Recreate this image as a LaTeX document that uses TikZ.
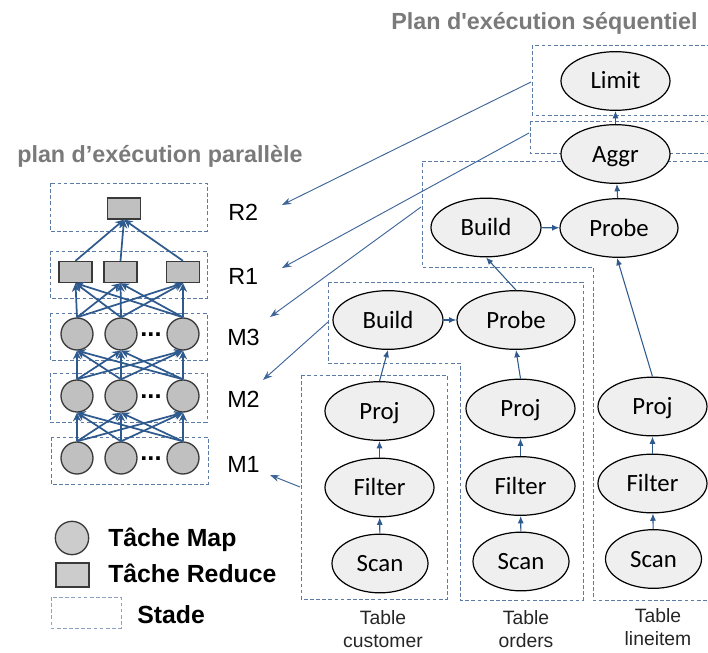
\documentclass[tikz,border=0pt]{standalone}
\usepackage{fontspec}
\setmainfont{Liberation Sans}
\newfontfamily\rawsans{Liberation Sans}[Ligatures=TeXOff]
\newfontfamily\calib{Carlito}
\usetikzlibrary{shapes.geometric,arrows.meta}
\definecolor{arrowblue}{HTML}{2F5A8E}
\definecolor{linkblue}{HTML}{3E659A}
\definecolor{dashblue}{HTML}{5B7BA6}
\definecolor{legdash}{HTML}{8DA2C2}
\definecolor{titlegray}{HTML}{7A7A7A}
\definecolor{taskgray}{HTML}{C0C0C0}
\definecolor{legfill}{HTML}{CCCCCC}
\definecolor{ellfill}{HTML}{EFEFEF}
\definecolor{tasked}{HTML}{3A3A3A}
\begin{document}
\begin{tikzpicture}[x=0.75pt,y=-0.75pt,
  op/.style={ellipse, draw=black, fill=ellfill, line width=0.9pt, inner sep=0pt,
    minimum height=44pt, minimum width=81.75pt,
    font=\calib\fontsize{18.6}{20}\selectfont, text height=14.4pt, text depth=2.4pt},
  buildop/.style={op, minimum width=82.5pt},
  probeop/.style={op, minimum width=88.5pt},
  scanop/.style={op, minimum width=72pt},
  sarrow/.style={-{Latex[length=5.5pt,width=4.5pt]}, draw=arrowblue, line width=0.8pt},
  maptask/.style={circle, draw=tasked, fill=taskgray, line width=1pt, minimum size=24pt, inner sep=0pt},
  redtask/.style={rectangle, draw=tasked, fill=taskgray, line width=1pt, minimum width=24.75pt, minimum height=15.75pt, inner sep=0pt},
  garrow/.style={-{Stealth[length=6.5pt,width=6pt]}, draw=arrowblue, line width=1.3pt},
  stage/.style={draw=dashblue, dash pattern=on 2.8pt off 1.8pt, line width=0.75pt},
  link/.style={-{Stealth[length=7pt,width=5pt]}, draw=linkblue, line width=0.7pt},
  title/.style={font=\rawsans\bfseries\fontsize{17.5}{20}\selectfont, text=titlegray, inner sep=0pt, anchor=base west},
  stagelbl/.style={font=\fontsize{17.5}{20}\selectfont, inner sep=0pt, anchor=base west},
  leglbl/.style={font=\bfseries\fontsize{18.6}{22}\selectfont, inner sep=0pt, anchor=base west},
  tbl/.style={font=\fontsize{14.5}{17.3}\selectfont, text=black!85, inner sep=0pt, anchor=north, align=center}
]
\useasboundingbox (0,0) rectangle (708,653);

% ---------- titles ----------
\node[title] (tseq) at (391,30) {Plan d'exécution séquentiel};
\node[title] (tpar) at (17,162) {plan d’exécution parallèle};

% ---------- parallel plan: stages ----------
\draw[stage] (50,183) rectangle (207,231);
\draw[stage] (50,251) rectangle (207,298);
\draw[stage] (50,313) rectangle (207,360);
\draw[stage] (50,373) rectangle (207,422);
\draw[stage] (51,437) rectangle (208,484);

% tasks
\node[redtask] (r2) at (124,208.5) {};
\node[redtask] (r1a) at (75.5,272) {};
\node[redtask] (r1b) at (120.5,272) {};
\node[redtask] (r1c) at (183,272) {};
\foreach \n/\y in {m3/334,m2/396,m1/458}{
  \node[maptask] (\n a) at (77,\y) {};
  \node[maptask] (\n b) at (121,\y) {};
  \node[maptask] (\n c) at (183,\y) {};
  \node[font=\bfseries\fontsize{19}{20}\selectfont, inner sep=0pt] (\n dots) at (151,\y+1) {...};
}
\foreach \a in {a,b,c}{
  \foreach \b in {a,b,c}{
    \draw[garrow] (m1\a.north) -- (m2\b.south);
    \draw[garrow] (m2\a.north) -- (m3\b.south);
    \draw[garrow] (m3\a.north) -- (r1\b.south);
  }
  \draw[garrow] (r1\a.north) -- (r2.south);
}

% stage labels
\node[stagelbl] (lR2) at (228,220.5) {R2};
\node[stagelbl] (lR1) at (228,284.5) {R1};
\node[stagelbl] (lM3) at (227,345.5) {M3};
\node[stagelbl] (lM2) at (227,407.5) {M2};
\node[stagelbl] (lM1) at (227,472.5) {M1};

% ---------- sequential plan: stage outlines ----------
\draw[stage] (532,45) rectangle (714,115);
\draw[stage] (530,121) rectangle (714,153);
\draw[stage] (714,161) -- (422,161) -- (422,267) -- (593,267) -- (593,600) -- (714,600);
\draw[stage] (328,282) -- (583,282) -- (583,600) -- (460,600) -- (460,363) -- (328,363) -- cycle;
\draw[stage] (301,375) rectangle (447,599);

% operators
\node[op] (limit) at (615.5,81) {Limit};
\node[op] (aggr) at (615.5,154) {Aggr};
\node[probeop] (probeT) at (619,228) {Probe};
\node[buildop] (buildT) at (486,227.5) {Build};
\node[buildop] (buildL) at (388,320) {Build};
\node[probeop] (probeL) at (516,320) {Probe};
\node[op] (cproj) at (379.5,411) {Proj};
\node[op] (cfilt) at (379.5,487.5) {Filter};
\node[scanop] (cscan) at (380,563.5) {Scan};
\node[op] (oproj) at (520.5,408.5) {Proj};
\node[op] (ofilt) at (520.5,486) {Filter};
\node[scanop] (oscan) at (521,561.5) {Scan};
\node[op] (lproj) at (652.5,406.5) {Proj};
\node[op] (lfilt) at (652.5,483.5) {Filter};
\node[scanop] (lscan) at (653.5,559) {Scan};

% operator arrows
\draw[sarrow] (cscan) -- (cfilt);
\draw[sarrow] (cfilt) -- (cproj);
\draw[sarrow] (cproj.north) -- (buildL.south);
\draw[sarrow] (oscan) -- (ofilt);
\draw[sarrow] (ofilt) -- (oproj);
\draw[sarrow] (oproj.north) -- (probeL.south);
\draw[sarrow] (lscan) -- (lfilt);
\draw[sarrow] (lfilt) -- (lproj);
\draw[sarrow] (buildL) -- (probeL);
\draw[sarrow] (probeL.north) -- (buildT.south);
\draw[sarrow] (lproj.north) -- ([xshift=-1.5pt]probeT.south);
\draw[sarrow] (buildT) -- (probeT);
\draw[sarrow] (probeT) -- (aggr);
\draw[sarrow] (aggr) -- (limit);

% table labels
\node[tbl] (tcust) at (383,610) {Table\\customer};
\node[tbl] (tord) at (526,610) {Table\\orders};
\node[tbl] (tline) at (658,608) {Table\\lineitem};

% ---------- links between plans ----------
\coordinate (sLimit) at (531,82);
\coordinate (sAggr) at (529,133);
\coordinate (sJoinT) at (421,207);
\coordinate (sJoinL) at (328,322);
\coordinate (sCust) at (300,487);
\coordinate (eR2) at (282,205);
\coordinate (eR1) at (282,268);
\coordinate (eM3) at (270,317);
\coordinate (eM2) at (263,380);
\coordinate (eM1) at (270,475);
\draw[link] (sLimit) -- (eR2);
\draw[link] (sAggr) -- (eR1);
\draw[link] (sJoinT) -- (eM3);
\draw[link] (sJoinL) -- (eM2);
\draw[link] (sCust) -- (eM1);

% ---------- legend ----------
\node[circle, draw=tasked, fill=legfill, line width=1pt, minimum size=25pt, inner sep=0pt] (legmap) at (72,538) {};
\node[rectangle, draw=tasked, fill=legfill, line width=1pt, minimum width=24.75pt, minimum height=18pt, inner sep=0pt] (legred) at (72.5,575) {};
\draw[draw=legdash, dash pattern=on 2.8pt off 1.8pt, line width=0.75pt] (51,597) rectangle (121,628);
\node[leglbl] (tmap) at (108,546) {Tâche Map};
\node[leglbl] (tred) at (108,582) {Tâche Reduce};
\node[leglbl] (tstade) at (137,623) {Stade};
\end{tikzpicture}
\end{document}
